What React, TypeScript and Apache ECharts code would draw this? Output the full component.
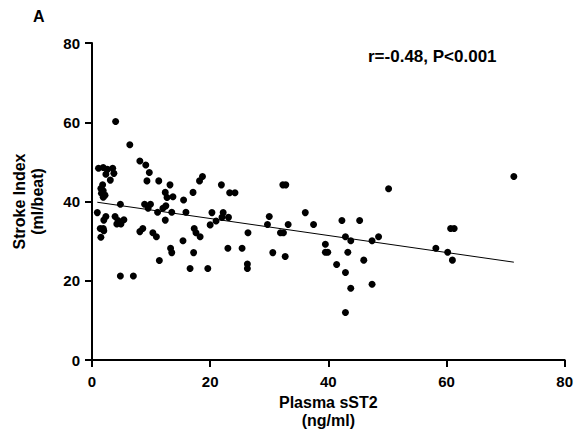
import React, { useEffect, useRef } from "react";
import * as echarts from "echarts";

// Plasma sST2 (ng/ml)
const sst2: number[] = [
  4.0, 6.4, 8.1, 9.1, 9.7, 9.3, 11.3, 13.2, 18.2, 18.7,
  12.4, 12.7, 13.7, 17.1, 15.5, 8.9, 9.9, 9.5, 12.5, 12.0,
  11.1, 13.5, 15.9, 12.4, 4.8, 1.1, 1.9, 2.6, 3.5, 2.35,
  3.7, 3.1, 1.8, 1.5, 1.9, 1.6, 2.2, 1.9, 0.9, 2.35,
  2.0, 3.9, 4.4, 4.9, 4.2, 1.9, 1.4, 2.0, 1.5, 5.4,
  8.1, 8.6, 10.3, 10.9, 13.3, 13.5, 15.4, 11.4, 16.6, 4.8,
  7.0, 17.3, 17.6, 18.3, 17.2, 19.6, 21.9, 23.3, 24.2, 32.3,
  32.8, 20.3, 22.2, 22.0, 23.1, 21.0, 20.0, 23.0, 25.4, 26.4,
  26.3, 26.3, 30.0, 29.7, 30.6, 31.9, 32.4, 33.2, 32.7, 36.1,
  37.5, 39.5, 39.5, 39.9, 42.3, 45.3, 42.9, 43.8, 43.3, 41.4,
  42.9, 43.8, 42.9, 46.0, 47.4, 48.5, 47.4, 50.2, 58.2, 60.2,
  61.0, 60.7, 61.3, 71.4,
];
// Stroke Index (ml/beat)
const strokeIndex: number[] = [
  60.2, 54.3, 50.2, 49.2, 47.3, 45.2, 45.2, 44.2, 45.2, 46.3,
  42.3, 41.0, 41.2, 42.3, 40.4, 39.3, 39.3, 38.3, 38.9, 38.3,
  37.3, 37.3, 37.3, 35.3, 39.3, 48.4, 48.6, 48.1, 48.4, 46.9,
  47.1, 45.4, 44.2, 43.3, 42.7, 42.1, 41.6, 41.1, 37.2, 36.2,
  35.3, 36.2, 35.2, 34.3, 34.3, 33.2, 33.2, 32.6, 31.0, 35.4,
  32.4, 33.2, 32.1, 31.1, 28.2, 27.1, 30.1, 25.1, 23.1, 21.2,
  21.2, 33.2, 32.1, 31.1, 27.1, 23.1, 44.2, 42.2, 42.2, 44.2,
  44.2, 37.2, 37.2, 36.0, 36.0, 35.1, 34.1, 28.2, 28.2, 32.1,
  24.2, 23.1, 36.2, 34.2, 27.1, 32.1, 32.1, 34.2, 26.1, 37.2,
  34.2, 29.2, 27.2, 27.2, 35.2, 35.2, 31.1, 30.1, 27.2, 24.1,
  22.1, 18.1, 12.0, 25.2, 30.1, 31.1, 19.1, 43.2, 28.2, 27.2,
  25.2, 33.2, 33.2, 46.3,
];

// Regression line
const fitIntercept = 40.0;
const fitSlope = -0.2145;

const xTicks = [0, 20, 40, 60, 80];
const yTicks = [0, 20, 40, 60, 80];
const annotation = "r=-0.48, P<0.001";
const panelLabel = "A";

const FONT = "'Liberation Sans', Arial, Helvetica, sans-serif";

export default function App() {
  const ref = useRef<HTMLDivElement>(null);
  useEffect(() => {
    if (!ref.current) return;
    document.body.style.margin = "0";
    const chart = echarts.init(ref.current, undefined, { renderer: "svg" });
    const points = sst2.map((x, i) => [x, strokeIndex[i]]);
    const xMin = Math.min(...sst2);
    const xMax = Math.max(...sst2);
    const fitLine = [
      [xMin, fitIntercept + fitSlope * xMin],
      [xMax, fitIntercept + fitSlope * xMax],
    ];
    const axisCommon = {
      axisLine: { show: true, lineStyle: { color: "#000", width: 2 } },
      axisTick: { show: true, length: 7, lineStyle: { color: "#000", width: 2 } },
      splitLine: { show: false },
      axisLabel: {
        color: "#000",
        fontSize: 15,
        fontWeight: "bold" as const,
        fontFamily: FONT,
      },
      nameTextStyle: {
        color: "#000",
        fontSize: 16,
        fontWeight: "bold" as const,
        fontFamily: FONT,
        lineHeight: 18,
      },
    };
    chart.setOption({
      animation: false,
      backgroundColor: "#fff",
      grid: { left: 92, top: 43, right: 8, bottom: 75, containLabel: false },
      xAxis: {
        type: "value",
        min: xTicks[0],
        max: xTicks[xTicks.length - 1],
        interval: 20,
        name: "Plasma sST2\n(ng/ml)",
        nameLocation: "middle",
        nameGap: 29,
        ...axisCommon,
        axisLabel: { ...axisCommon.axisLabel, margin: 14 },
      },
      yAxis: {
        type: "value",
        min: yTicks[0],
        max: yTicks[yTicks.length - 1],
        interval: 20,
        name: "Stroke Index\n(ml/beat)",
        nameLocation: "middle",
        nameGap: 46,
        nameRotate: 90,
        ...axisCommon,
        axisLabel: { ...axisCommon.axisLabel, margin: 12 },
      },
      series: [
        {
          type: "scatter",
          data: points,
          symbol: "circle",
          symbolSize: 7,
          itemStyle: { color: "#000", opacity: 1 },
          z: 3,
        },
        {
          type: "line",
          data: fitLine,
          symbol: "none",
          lineStyle: { color: "#000", width: 1 },
          z: 2,
        },
      ],
      graphic: [
        {
          type: "text",
          left: 33,
          top: 8,
          style: {
            text: panelLabel,
            fontSize: 16,
            fontWeight: "bold",
            fontFamily: FONT,
            fill: "#000",
          },
        },
        {
          type: "text",
          left: 368,
          top: 48,
          style: {
            text: annotation,
            fontSize: 17,
            fontWeight: "bold",
            fontFamily: FONT,
            fill: "#000",
          },
        },
      ],
    });
    return () => chart.dispose();
  }, []);
  return <div ref={ref} style={{ width: 576, height: 435 }} />;
}
